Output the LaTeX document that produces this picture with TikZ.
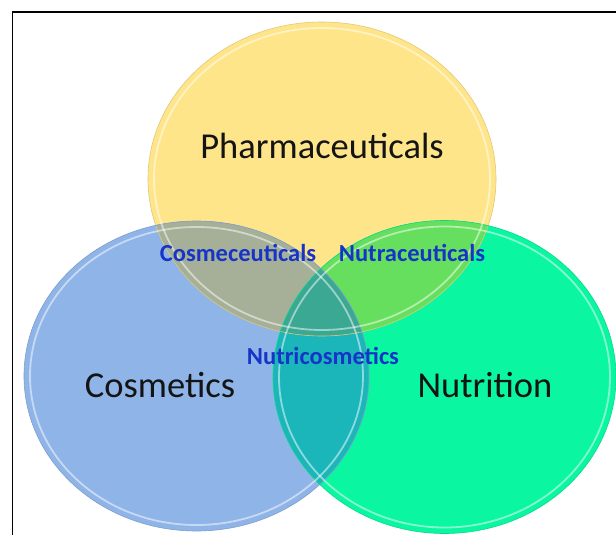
\documentclass[tikz,border=0pt]{standalone}
\usepackage{fontspec}
\setmainfont{Carlito}
\usetikzlibrary{positioning}

\definecolor{pharmacol}{RGB}{255,229,138}
\definecolor{cosmcol}{RGB}{143,180,232}
\definecolor{nutricol}{RGB}{10,246,160}
\definecolor{cosmpharmcol}{RGB}{166,176,152}
\definecolor{nutripharmcol}{RGB}{102,222,94}
\definecolor{cosmnutricol}{RGB}{26,182,186}
\definecolor{allcol}{RGB}{58,168,146}
\definecolor{labelblue}{RGB}{22,52,200}

\begin{document}
\begin{tikzpicture}[x=1pt,y=-1pt,
  bigword/.style={font=\fontsize{36.5}{40}\selectfont, text=black!92, anchor=base},
  mixword/.style={font=\bfseries\fontsize{24.5}{28}\selectfont, text=labelblue, anchor=base},
  rim/.style={line width=0.6pt},
  gloss/.style={white, opacity=0.5, line width=1.8pt}]
\tikzstyle{every node}+=[inner sep=0pt]
\useasboundingbox (0,0) rectangle (616,535);
\clip (0,0) rectangle (616,535);
\fill [white] (0,0) rectangle (616,535);
\draw [black, line width=1.5pt] (12.5,12) rectangle (650,570);

% the three circles
\def\pharmapath{(322,179) ellipse [x radius=174, y radius=157]}
\def\cosmpath{(196.5,376) ellipse [x radius=172.5, y radius=155]}
\def\nutripath{(444.5,377) ellipse [x radius=171.5, y radius=156.5]}
\fill [pharmacol] \pharmapath;
\fill [cosmcol] \cosmpath;
\fill [nutricol] \nutripath;

% overlaps
\begin{scope}
\clip \pharmapath;
\fill [cosmpharmcol] \cosmpath;
\fill [nutripharmcol] \nutripath;
\end{scope}
\begin{scope}
\clip \cosmpath;
\fill [cosmnutricol] \nutripath;
\clip \pharmapath;
\fill [allcol] \nutripath;
\end{scope}

% rims
\draw [rim, pharmacol!88!black] \pharmapath;
\draw [rim, cosmcol!88!black] \cosmpath;
\draw [rim, nutricol!88!black] \nutripath;
\draw [gloss] (322,179) ellipse [x radius=168, y radius=151];
\draw [gloss] (196.5,376) ellipse [x radius=166.5, y radius=149];
\draw [gloss] (444.5,377) ellipse [x radius=165.5, y radius=150.5];

% labels
\node [bigword] (pharma) at (322,158) {Pharmaceuticals};
\node [bigword] (cosm) at (160,397) {Cosmetics};
\node [bigword] (nutri) at (485,397) {Nutrition};
\node [mixword] (cosmeceut) at (238,261) {Cosmeceuticals};
\node [mixword] (nutraceut) at (412,261) {Nutraceuticals};
\node [mixword] (nutricosm) at (323,364) {Nutricosmetics};
\end{tikzpicture}
\end{document}
